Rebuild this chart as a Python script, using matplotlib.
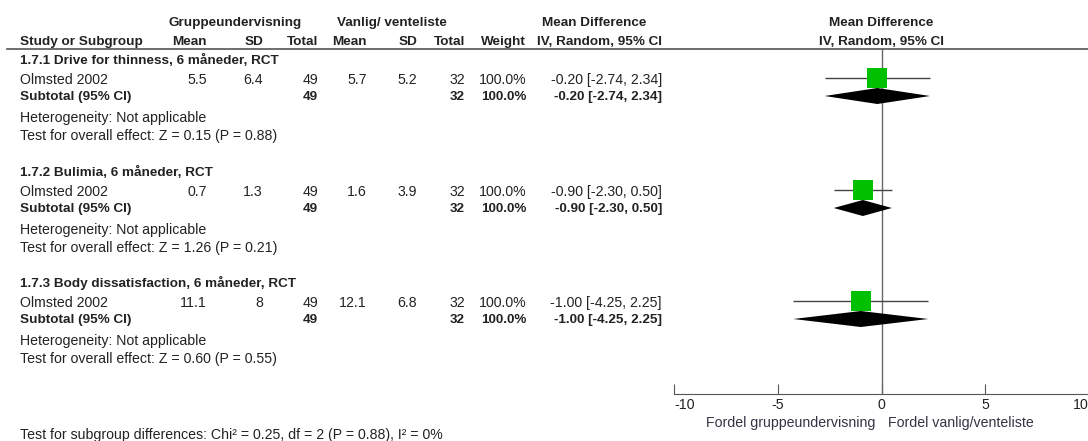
import matplotlib
matplotlib.use("Agg")
import matplotlib.pyplot as plt
from matplotlib.lines import Line2D

plt.rcParams['font.family'] = ['Liberation Sans', 'DejaVu Sans']
plt.rcParams['axes.unicode_minus'] = False

# ---------------- data ----------------
group_titles = ["1.7.1 Drive for thinness, 6 måneder, RCT",
                "1.7.2 Bulimia, 6 måneder, RCT",
                "1.7.3 Body dissatisfaction, 6 måneder, RCT"]
studies = ["Olmsted 2002", "Olmsted 2002", "Olmsted 2002"]
exp_mean = [5.5, 0.7, 11.1]
exp_sd = [6.4, 1.3, 8]
exp_total = [49, 49, 49]
ctl_mean = [5.7, 1.6, 12.1]
ctl_sd = [5.2, 3.9, 6.8]
ctl_total = [32, 32, 32]
weights = [100.0, 100.0, 100.0]
md = [-0.20, -0.90, -1.00]
ci_lo = [-2.74, -2.30, -4.25]
ci_hi = [2.34, 0.50, 2.25]
z_vals = [0.15, 1.26, 0.60]
p_vals = [0.88, 0.21, 0.55]
xticks = [-10, -5, 0, 5, 10]
exp_label = "Gruppeundervisning"
ctl_label = "Vanlig/ venteliste"
favours_left = "Fordel gruppeundervisning"
favours_right = "Fordel vanlig/venteliste"
subgroup_test = "Test for subgroup differences: Chi² = 0.25, df = 2 (P = 0.88), I² = 0%"

# ---------------- layout ----------------
W, H = 1088, 441
fig = plt.figure(figsize=(W / 100, H / 100), dpi=100)
TXT = '#222222'
FS = 10.2
FSB = 9.7

tax = fig.add_axes([0, 0, 1, 1])
tax.set_xlim(0, W)
tax.set_ylim(H, 0)
tax.axis('off')

def t(x, y, s, ha='left', bold=False, color=TXT, fs=None):
    tax.text(x, y, s, ha=ha, va='center', color=color,
             fontsize=fs if fs else (FSB if bold else FS),
             fontweight='bold' if bold else 'normal')

# column right edges
cx = dict(m1=207, s1=263, t1=318, m2=367, s2=417, t2=465, w=526, ci=662)

# headers
t(235, 23, exp_label, ha='center', bold=True)
t(392, 23, ctl_label, ha='center', bold=True)
t(594, 23, "Mean Difference", ha='center', bold=True)
t(20, 42, "Study or Subgroup", bold=True)
for key, lab in [('m1', 'Mean'), ('s1', 'SD'), ('t1', 'Total'), ('m2', 'Mean'),
                 ('s2', 'SD'), ('t2', 'Total'), ('w', 'Weight'), ('ci', 'IV, Random, 95% CI')]:
    t(cx[key], 42, lab, ha='right', bold=True)
t(881.5, 23, "Mean Difference", ha='center', bold=True)
t(881.5, 42, "IV, Random, 95% CI", ha='center', bold=True)

fig.add_artist(Line2D([7 / W, 1.0], [1 - 49 / H] * 2, transform=fig.transFigure,
                      color='#555555', lw=1.2))

group_top = [60, 172, 283]
offs = dict(head=0, study=20, sub=37, het=58, test=76)

ax = fig.add_axes([674 / W, 0, (1089 - 674) / W, 1])
ax.set_xlim(-10, 10)
ax.set_ylim(H, 0)
ax.patch.set_visible(False)
for s in ['top', 'left', 'right']:
    ax.spines[s].set_visible(False)
ax.spines['bottom'].set_position(('data', 394))
ax.spines['bottom'].set_color('#555555')
ax.set_yticks([])
ax.set_xticks(xticks)
labs = ax.set_xticklabels([f"{v:g}" for v in xticks], fontsize=FS, color=TXT)
labs[0].set_ha('left')
labs[-1].set_ha('right')
ax.tick_params(axis='x', direction='in', length=7, color='#555555', pad=3)
ax.vlines(0, 49, 394, color='#666666', lw=1)

for i in range(3):
    g = group_top[i]
    t(20, g + offs['head'], group_titles[i], bold=True)
    ys = g + offs['study']
    t(20, ys, studies[i])
    t(cx['m1'], ys, f"{exp_mean[i]:g}", ha='right')
    t(cx['s1'], ys, f"{exp_sd[i]:g}", ha='right')
    t(cx['t1'], ys, f"{exp_total[i]}", ha='right')
    t(cx['m2'], ys, f"{ctl_mean[i]:g}", ha='right')
    t(cx['s2'], ys, f"{ctl_sd[i]:g}", ha='right')
    t(cx['t2'], ys, f"{ctl_total[i]}", ha='right')
    t(cx['w'], ys, f"{weights[i]:.1f}%", ha='right')
    ci_txt = f"{md[i]:.2f} [{ci_lo[i]:.2f}, {ci_hi[i]:.2f}]"
    t(cx['ci'], ys, ci_txt, ha='right')
    yb = g + offs['sub']
    t(20, yb, "Subtotal (95% CI)", bold=True)
    t(cx['t1'], yb, f"{exp_total[i]}", ha='right', bold=True)
    t(cx['t2'], yb, f"{ctl_total[i]}", ha='right', bold=True)
    t(cx['w'], yb, f"{weights[i]:.1f}%", ha='right', bold=True)
    t(cx['ci'], yb, ci_txt, ha='right', bold=True)
    t(20, g + offs['het'], "Heterogeneity: Not applicable")
    t(20, g + offs['test'], f"Test for overall effect: Z = {z_vals[i]:.2f} (P = {p_vals[i]:.2f})")

    # forest marks
    ax.hlines(ys - 2, ci_lo[i], ci_hi[i], color='#444444', lw=1, zorder=2)
    ax.plot([md[i]], [ys - 2], marker='s', markersize=15, color='#00C000',
            markeredgewidth=0, linestyle='none', zorder=3)
    yd = yb - 1
    ax.fill([ci_lo[i], md[i], ci_hi[i], md[i]], [yd, yd - 8, yd, yd + 8],
            color='black', lw=0, zorder=3)

t(875, 423, favours_left, ha='right', color='#333344')
t(888, 423, favours_right, ha='left', color='#333344')
t(20, 435, subgroup_test)

fig.savefig("out.png", dpi=100)
